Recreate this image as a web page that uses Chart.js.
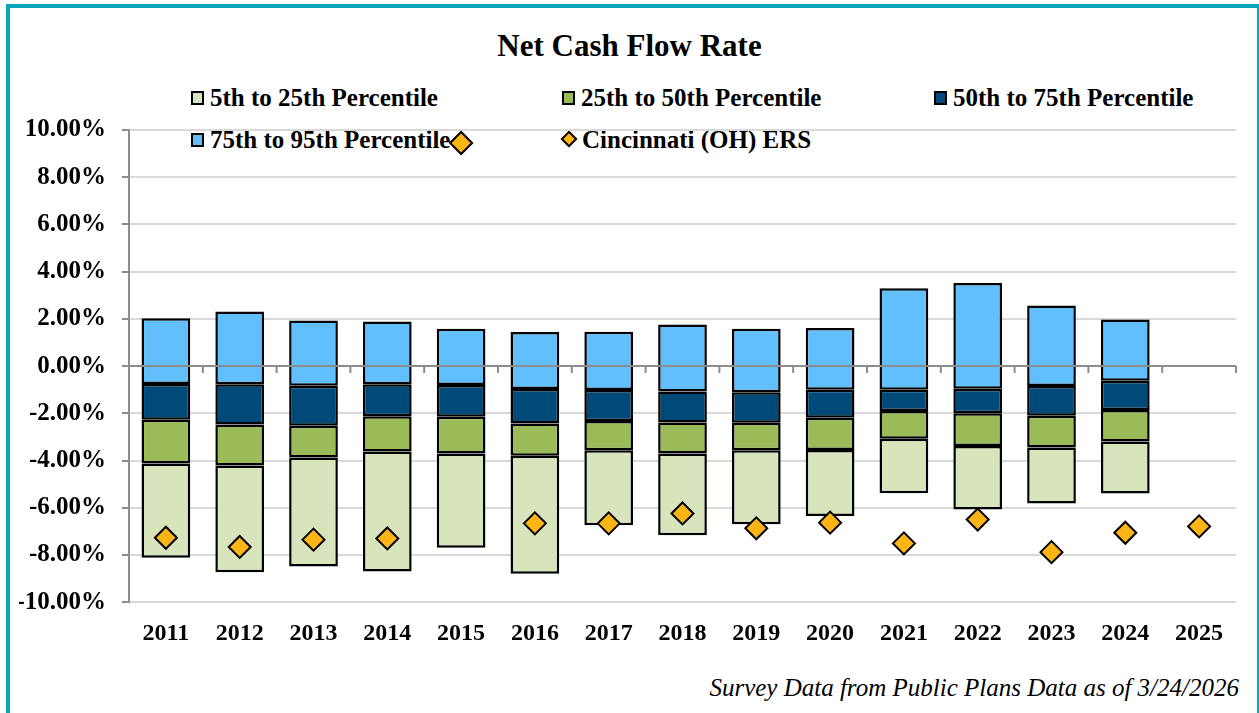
<!DOCTYPE html>
<html>
<head>
<meta charset="utf-8">
<script src="https://cdn.jsdelivr.net/npm/chart.js@4"></script>
<style>
    body { margin: 0; background: #fff; }
    #wrap { position: relative; width: 1259px; height: 713px; overflow: hidden; font-family: 'Liberation Serif', 'Times New Roman', serif; }
    #frame { position: absolute; left: 6px; top: 4px; width: 1253px; height: 720px; box-sizing: border-box;
             border-left: 4px solid #0aa5b9; border-top: 4px solid #0aa5b9; border-right: 2px solid #0aa5b9; }
    #title { position: absolute; left: 0; width: 1259px; top: 28px; text-align: center; font-weight: bold; font-size: 31px; }
    .item { position: absolute; font-weight: bold; font-size: 25px; line-height: 30px; white-space: nowrap; }
    .box { display: inline-block; width: 9px; height: 10px; border: 2px solid #000; margin-right: 6px; vertical-align: 1px; }
    .dia { display: inline-block; width: 8px; height: 8px; border: 2px solid #000; background: #fdb515; transform: rotate(45deg); margin: 0 7px 0 3px; vertical-align: 3px; }
    #note { position: absolute; right: 20px; top: 674px; font-style: italic; font-size: 25px; }
    canvas { position: absolute; left: 0; top: 0; }
</style>
</head>
<body>
<div id="wrap">
    <div id="frame"></div>
    <div id="title">Net Cash Flow Rate</div>
    <div class="item" style="left:191px; top:83px"><span class="box" style="background:#d8e4bc"></span>5th to 25th Percentile</div>
    <div class="item" style="left:562px; top:83px"><span class="box" style="background:#9bbb59"></span>25th to 50th Percentile</div>
    <div class="item" style="left:934px; top:83px"><span class="box" style="background:#004a7a"></span>50th to 75th Percentile</div>
    <div class="item" style="left:191px; top:125px"><span class="box" style="background:#61bffd"></span>75th to 95th Percentile</div>
    <div class="item" style="left:560px; top:125px"><span class="dia"></span>Cincinnati (OH) ERS</div>
    <div id="note">Survey Data from Public Plans Data as of 3/24/2026</div>
    <canvas id="cashChart" width="1259" height="713"></canvas>
</div>
<script>
// values in percent
const years = ['2011', '2012', '2013', '2014', '2015', '2016', '2017', '2018', '2019', '2020', '2021', '2022', '2023', '2024', '2025'];
const p5  = [-8.12, -8.73, -8.49, -8.70, -7.69, -8.80, -6.74, -7.16, -6.70, -6.35, -5.39, -6.07, -5.82, -5.40, null];
const p25 = [-4.13, -4.21, -3.87, -3.62, -3.70, -3.80, -3.56, -3.70, -3.56, -3.55, -3.08, -3.38, -3.45, -3.19, null];
const p50 = [-2.27, -2.47, -2.53, -2.12, -2.14, -2.43, -2.33, -2.39, -2.40, -2.19, -1.90, -2.00, -2.10, -1.86, null];
const p75 = [-0.76, -0.77, -0.83, -0.77, -0.80, -0.97, -1.01, -1.08, -1.11, -1.00, -1.00, -0.96, -0.84, -0.62, null];
const p95 = [2.03, 2.31, 1.93, 1.89, 1.58, 1.44, 1.45, 1.76, 1.58, 1.61, 3.30, 3.52, 2.57, 1.97, null];
const cincinnati = [-7.27, -7.66, -7.35, -7.30, 9.45, -6.66, -6.66, -6.24, -6.87, -6.63, -7.51, -6.50, -7.88, -7.06, -6.79];

const fontFamily = "'Liberation Serif', 'Times New Roman', serif";

function band(lo, hi) {
    return lo.map((v, i) => (v === null ? null : [v, hi[i]]));
}

function barSet(label, lo, hi, color) {
    return {
        type: 'bar',
        label: label,
        data: band(lo, hi),
        backgroundColor: color,
        borderColor: '#000',
        borderWidth: 2.5,
        borderSkipped: false,
        grouped: false,
        barPercentage: 0.66,
        categoryPercentage: 1,
        order: 1
    };
}

// zero axis line with tick marks, drawn over the bars like the original
const zeroAxis = {
    id: 'zeroAxis',
    afterDatasetsDraw(chart) {
        const { ctx, chartArea, scales } = chart;
        const y0 = scales.y.getPixelForValue(0);
        const step = scales.x.getPixelForValue(1) - scales.x.getPixelForValue(0);
        ctx.save();
        ctx.strokeStyle = '#8c8c8c';
        ctx.lineWidth = 2;
        ctx.beginPath();
        ctx.moveTo(chartArea.left, y0);
        ctx.lineTo(chartArea.right, y0);
        for (let i = 0; i <= years.length; i++) {
            const x = scales.x.getPixelForValue(i) - step / 2;
            ctx.moveTo(x, y0);
            ctx.lineTo(x, y0 + 7);
        }
        ctx.stroke();
        ctx.restore();
    }
};

new Chart(document.getElementById('cashChart'), {
    type: 'bar',
    data: {
        labels: years,
        datasets: [
            {
                type: 'line',
                label: 'Cincinnati (OH) ERS',
                data: cincinnati,
                showLine: false,
                pointStyle: 'rectRot',
                pointRadius: 11,
                pointBackgroundColor: '#fdb515',
                pointBorderColor: '#000',
                pointBorderWidth: 2,
                order: 0
            },
            barSet('5th to 25th Percentile', p5, p25, '#d8e4bc'),
            barSet('25th to 50th Percentile', p25, p50, '#9bbb59'),
            barSet('50th to 75th Percentile', p50, p75, '#004a7a'),
            barSet('75th to 95th Percentile', p75, p95, '#61bffd')
        ]
    },
    options: {
        responsive: false,
        animation: false,
        layout: { padding: { top: 130, left: 19, right: 23, bottom: 48 } },
        plugins: {
            legend: { display: false },
            title: { display: false },
            tooltip: { enabled: false }
        },
        scales: {
            x: {
                offset: true,
                grid: { display: false, drawTicks: false },
                border: { display: false },
                ticks: {
                    color: '#000',
                    padding: 17,
                    font: { family: fontFamily, size: 24, weight: 'bold' }
                }
            },
            y: {
                min: -10,
                max: 10,
                grid: { color: '#d9d9d9', lineWidth: 2, tickColor: '#8c8c8c', tickLength: 7 },
                border: { color: '#8c8c8c', width: 2 },
                afterFit(scale) { scale.width = 110; },
                ticks: {
                    stepSize: 2,
                    color: '#000',
                    padding: 16,
                    font: { family: fontFamily, size: 25, weight: 'bold' },
                    callback: v => v.toFixed(2) + '%'
                }
            }
        }
    },
    plugins: [zeroAxis]
});
</script>
</body>
</html>
